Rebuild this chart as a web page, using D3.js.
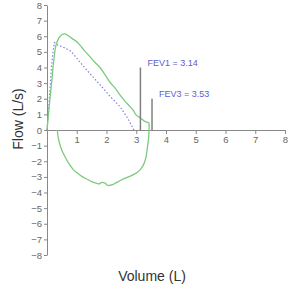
<!DOCTYPE html>
<html>
<head>
<meta charset="utf-8">
<script src="https://cdn.jsdelivr.net/npm/d3@7"></script>
<style>
  html, body { margin: 0; padding: 0; background: #fff; }
  svg { display: block; font-family: "Liberation Sans", Arial, sans-serif; }
</style>
</head>
<body>
<div id="chart"></div>
<script>
// Flow-volume loop
const loopVolume = [0, 0.03, 0.1, 0.17, 0.23, 0.3, 0.4, 0.5, 0.6, 0.7, 0.85, 1.0, 1.1, 1.25, 1.44, 1.6, 1.78, 1.95, 2.1, 2.3, 2.45, 2.6, 2.79, 2.9, 3.0, 3.12, 3.22, 3.29, 3.36, 3.42, 3.43,
  3.41, 3.37, 3.32, 3.25, 3.15, 3.0, 2.8, 2.6, 2.45, 2.3, 2.2, 2.05, 1.95, 1.85, 1.75, 1.65, 1.5, 1.35, 1.2, 1.05, 0.87, 0.72, 0.6, 0.5, 0.42, 0.37, 0.35];
const loopFlow = [0, 0.6, 2.0, 3.3, 4.5, 5.4, 5.9, 6.1, 6.15, 6.05, 5.85, 5.65, 5.45, 5.1, 4.7, 4.35, 4.0, 3.55, 3.1, 2.65, 2.25, 1.9, 1.5, 1.25, 0.95, 0.8, 0.65, 0.55, 0.5, 0.45, 0.0,
  -0.6, -1.2, -1.8, -2.2, -2.5, -2.75, -2.95, -3.1, -3.25, -3.4, -3.5, -3.55, -3.4, -3.35, -3.45, -3.4, -3.3, -3.15, -3.0, -2.8, -2.5, -2.1, -1.7, -1.3, -0.85, -0.4, 0.0];

const predVolume = [0, 0.05, 0.1, 0.15, 0.2, 0.25, 0.35, 0.55, 0.8, 1.0, 1.1, 1.4, 1.78, 2.1, 2.45, 2.7, 2.92];
const predFlow = [0, 1.2, 2.6, 4.0, 5.0, 5.6, 5.45, 5.3, 5.05, 4.6, 4.36, 3.7, 2.9, 2.2, 1.5, 0.8, 0.0];

const markerNames = ["FEV1", "FEV3"];
const markerVolume = [3.14, 3.53];
const markerHeight = [4.0, 2.0];

const xTicks = [1, 2, 3, 4, 5, 6, 7, 8];
const yTicks = d3.range(-8, 9);

const width = 300;
const height = 293;

const x = d3.scaleLinear().domain([0, 8]).range([47, 285]);
const y = d3.scaleLinear().domain([-8, 8]).range([255, 5]);

const svg = d3.select("#chart").append("svg")
    .attr("width", width)
    .attr("height", height);

// axes
const yAxis = svg.append("g")
    .attr("transform", `translate(${x(0)},0)`)
    .call(d3.axisLeft(y).tickValues(yTicks).tickSize(3).tickSizeOuter(0).tickPadding(2));

const xAxis = svg.append("g")
    .attr("transform", `translate(0,${y(0)})`)
    .call(d3.axisBottom(x).tickValues(xTicks).tickSize(4).tickSizeOuter(0).tickPadding(2));

[xAxis, yAxis].forEach(g => {
    g.selectAll("path, line").attr("stroke", "#888");
    g.selectAll("text")
        .attr("fill", "#666")
        .style("font-size", "9.5px")
        .style("font-family", "Liberation Sans, Arial, sans-serif");
});

const line = d3.line()
    .x(d => x(d[0]))
    .y(d => y(d[1]))
    .curve(d3.curveCatmullRom.alpha(0.5));

// predicted curve
svg.append("path")
    .datum(predVolume.map((v, i) => [v, predFlow[i]]))
    .attr("d", d3.line().x(d => x(d[0])).y(d => y(d[1])))
    .attr("fill", "none")
    .attr("stroke", "#8080e0")
    .attr("stroke-width", 1.2)
    .attr("stroke-dasharray", "1.5,2");

// measured loop
svg.append("path")
    .datum(loopVolume.map((v, i) => [v, loopFlow[i]]))
    .attr("d", line)
    .attr("fill", "none")
    .attr("stroke", "#7ccb7c")
    .attr("stroke-width", 1.3)
    .attr("stroke-linejoin", "round");

// FEV markers
markerNames.forEach((name, i) => {
    svg.append("line")
        .attr("x1", x(markerVolume[i]))
        .attr("x2", x(markerVolume[i]))
        .attr("y1", y(0))
        .attr("y2", y(markerHeight[i]))
        .attr("stroke", "#808080")
        .attr("stroke-width", 1.5);

    svg.append("text")
        .attr("x", x(markerVolume[i]) + 7)
        .attr("y", y(markerHeight[i]) - 2)
        .attr("fill", "#5e5ed0")
        .style("font-size", "9px")
        .text(`${name} = ${markerVolume[i].toFixed(2)}`);
});

// axis titles
svg.append("text")
    .attr("x", 152)
    .attr("y", 281)
    .attr("text-anchor", "middle")
    .attr("fill", "#333")
    .style("font-size", "14px")
    .text("Volume (L)");

svg.append("text")
    .attr("transform", "rotate(-90)")
    .attr("x", -119)
    .attr("y", 23)
    .attr("text-anchor", "middle")
    .attr("fill", "#333")
    .style("font-size", "14px")
    .text("Flow (L/s)");
</script>
</body>
</html>
